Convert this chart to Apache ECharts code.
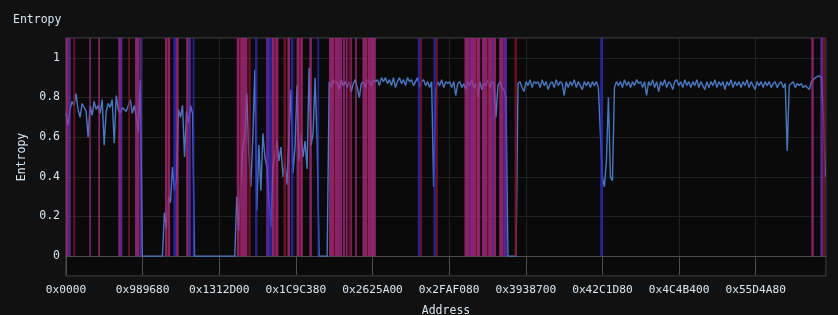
<!DOCTYPE html>
<html>
<head>
<meta charset="utf-8">
<script src="https://cdn.jsdelivr.net/npm/echarts@6/dist/echarts.min.js"></script>
<style>
  html, body { margin: 0; padding: 0; background: #111111; }
  #main { width: 838px; height: 315px; }
</style>
</head>
<body>
<div id="main"></div>
<script>
// block size of one entropy sample (bytes)
const BLOCK = 262144;
const FILE_END = 99170000;
const X_STEP = 10000000;

// entropy per block
const entropy = [
  0.72,0.66,0.74,0.78,0.76,0.82,0.74,0.70,0.77,0.75,
  0.73,0.60,0.76,0.71,0.78,0.74,0.76,0.72,0.79,0.56,
  0.73,0.77,0.75,0.79,0.57,0.81,0.74,0.72,0.75,0.74,
  0.73,0.76,0.79,0.72,0.76,0.70,0.62,0.89,
  0,0,0,0,0,0,0,0,0,0,0,
  0.22,0.14,0.30,0.27,0.45,0.33,0.40,0.74,0.70,0.76,0.50,0.73,0.67,0.76,0.72,
  0,0,0,0,0,0,0,0,0,0,0,0,0,0,0,0,0,0,0,0,0,
  0.30,0.13,0.38,0.55,0.60,0.82,0.52,0.35,0.60,0.94,
  0.23,0.56,0.33,0.62,0.50,0.45,0.28,0.15,0.44,0.52,
  0.58,0.48,0.55,0.40,0.47,0.36,0.62,0.84,0.42,0.55,
  0.86,0.48,0.62,0.50,0.58,0.44,0.95,0.56,0.62,0.90,
  0.58,
  0,0,0,0,0,
  0.88,0.85,0.89,0.87,0.88,0.84,0.89,0.86,0.88,0.85,
  0.88,0.83,0.87,0.89,0.85,0.80,0.87,0.88,0.85,0.89,
  0.88,0.86,0.89,0.88,0.89,0.86,0.90,0.88,0.90,0.87,
  0.89,0.86,0.90,0.85,0.88,0.90,0.87,0.89,0.86,0.90,
  0.88,0.89,0.86,0.88,0.90,0.85,0.88,0.89,0.86,0.88,
  0.85,0.88,0.35,0.84,0.88,0.86,0.89,0.85,0.88,0.87,
  0.88,0.85,0.88,0.81,0.87,0.88,0.85,0.87,0.84,0.88,
  0.86,0.89,0.85,0.87,0.80,0.88,0.84,0.87,0.86,0.89,
  0.85,0.88,0.87,0.70,0.86,0.88,0.85,0.84,0.80,
  0,0,0,0,0,
  0.87,0.88,0.85,0.83,0.88,0.86,0.89,0.85,0.88,0.87,
  0.88,0.85,0.89,0.86,0.88,0.84,0.87,0.88,0.85,0.89,
  0.86,0.88,0.87,0.81,0.88,0.85,0.88,0.86,0.89,0.85,
  0.88,0.86,0.84,0.88,0.86,0.88,0.85,0.88,0.86,0.88,
  0.85,
  0.62,0.40,0.35,0.48,0.80,0.40,0.38,0.85,0.88,
  0.86,0.88,0.85,0.89,0.86,0.88,0.85,0.88,0.86,0.89,
  0.87,0.88,0.85,0.88,0.81,0.88,0.86,0.89,0.85,0.88,
  0.83,0.88,0.86,0.89,0.85,0.88,0.87,0.84,0.88,0.89,
  0.86,0.88,0.85,0.89,0.86,0.88,0.85,0.88,0.86,0.89,
  0.85,0.88,0.86,0.84,0.88,0.85,0.88,0.86,0.89,0.85,
  0.88,0.86,0.88,0.84,0.88,0.86,0.89,0.85,0.88,0.86,
  0.88,0.85,0.88,0.86,0.89,0.85,0.88,0.86,0.84,0.88,
  0.86,0.88,0.85,0.88,0.86,0.88,0.85,0.87,0.88,0.85,
  0.87,0.88,0.85,0.87,
  0.53,0.86,0.87,0.88,0.85,0.87,0.86,0.87,0.85,0.86,
  0.85,0.84,0.88,0.89,0.90,0.905,0.91,0.90,0.72,0.40
];

// highlighted regions (start, end address) and their kind
// kind: 0 pink, 1 dark red, 2 blue, 3 purple
const bandStart = [
  0, 300000, 950000, 3040000, 4220000, 6830000, 7050000, 8130000, 9010000, 9570000,
  12920000, 13190000, 13320000, 14010000, 14360000, 15670000, 15950000, 16540000,
  22280000, 22650000, 22780000, 23800000, 24670000, 26110000, 26500000, 26850000, 27250000, 27380000,
  28370000, 28890000, 29370000, 30120000, 30500000, 30620000, 31760000, 32810000,
  34330000, 35000000, 35120000, 35770000, 36150000, 36500000, 36850000, 37100000, 37730000,
  38680000, 39300000, 39420000, 45910000, 46210000, 47950000, 48260000,
  52000000, 52700000, 52850000, 53500000, 53620000,
  54270000, 55000000, 55130000, 55600000, 55750000,
  56530000, 57100000, 58530000, 69710000, 97260000, 98430000, 98790000
];
const bandEnd = [
  300000, 610000, 1210000, 3220000, 4440000, 7050000, 7350000, 8360000, 9530000, 9880000,
  13190000, 13320000, 13580000, 14360000, 14710000, 15950000, 16280000, 16750000,
  22650000, 22780000, 23670000, 24110000, 24970000, 26500000, 26850000, 27250000, 27380000, 27710000,
  28720000, 29240000, 29670000, 30500000, 30620000, 30900000, 32080000, 33030000,
  35000000, 35120000, 35770000, 36050000, 36400000, 36750000, 37000000, 37300000, 37950000,
  39300000, 39420000, 40430000, 46210000, 46470000, 48260000, 48520000,
  52700000, 52850000, 53500000, 53620000, 54050000,
  55000000, 55130000, 55600000, 55750000, 56100000,
  57100000, 57530000, 58840000, 70060000, 97560000, 98790000, 99080000
];
const bandKind = [
  0, 3, 1, 0, 0, 0, 3, 1, 0, 3,
  0, 1, 0, 2, 0, 0, 3, 2,
  0, 1, 0, 1, 2, 3, 2, 0, 1, 0,
  1, 0, 2, 0, 1, 0, 0, 2,
  0, 1, 0, 0, 0, 0, 1, 0, 0,
  0, 1, 0, 2, 1, 2, 1,
  0, 3, 0, 1, 0,
  0, 1, 0, 3, 0,
  0, 3, 1, 2, 0, 3, 1
];

const Y_MIN = -0.1;
const Y_MAX = 1.1;

const BAND_COLORS = [
  'rgba(180,45,135,0.74)',
  'rgba(130,20,40,0.82)',
  'rgba(45,45,200,0.75)',
  'rgba(115,50,200,0.72)'
];
const TEXT = '#d8e6f0';
const FONT = 'DejaVu Sans Mono';

const lineData = entropy.map((v, i) => [i * BLOCK, v]);
const bandData = bandStart.map((s, i) => [s, bandEnd[i], bandKind[i]]);

const hex = (v) => '0x' + Math.round(v).toString(16).toUpperCase().padStart(4, '0');

const myChart = echarts.init(document.getElementById('main'));

const option = {
  backgroundColor: '#111111',
  animation: false,
  title: {
    text: 'Entropy',
    left: 8,
    top: 9,
    textStyle: { color: TEXT, fontFamily: FONT, fontSize: 11.5, fontWeight: 'normal' }
  },
  grid: {
    left: 66,
    right: 12,
    top: 38,
    bottom: 39,
    outerBoundsMode: 'none',
    show: true,
    backgroundColor: '#0a0a0a',
    borderColor: '#4a4a4a',
    borderWidth: 1
  },
  xAxis: {
    type: 'value',
    min: 0,
    max: FILE_END,
    interval: X_STEP,
    name: 'Address',
    nameLocation: 'middle',
    nameGap: 29,
    nameTextStyle: { color: TEXT, fontFamily: FONT, fontSize: 11.5 },
    axisLine: { onZero: true, lineStyle: { color: '#4e4e4e' } },
    axisTick: { length: 19, lineStyle: { color: '#4e4e4e' } },
    axisLabel: {
      color: TEXT, fontFamily: FONT, fontSize: 11.2, margin: 9,
      showMaxLabel: false,
      formatter: hex
    },
    splitLine: { show: true, lineStyle: { color: '#222222' } }
  },
  yAxis: {
    type: 'value',
    min: Y_MIN,
    max: Y_MAX,
    name: 'Entropy',
    nameLocation: 'middle',
    nameGap: 38,
    nameTextStyle: { color: TEXT, fontFamily: FONT, fontSize: 11.5 },
    axisLine: { show: false },
    axisTick: { show: false },
    axisLabel: {
      color: TEXT, fontFamily: FONT, fontSize: 11.5, margin: 6,
      showMinLabel: false, showMaxLabel: false
    },
    splitLine: { show: true, lineStyle: { color: '#222222' } }
  },
  series: [
    {
      name: 'entropy',
      type: 'line',
      data: lineData,
      showSymbol: false,
      sampling: null,
      lineStyle: { color: '#4a78c0', width: 1.4 },
      z: 2
    },
    {
      name: 'regions',
      type: 'custom',
      data: bandData,
      z: 3,
      renderItem: (params, api) => {
        const p0 = api.coord([api.value(0), 0]);
        const p1 = api.coord([api.value(1), Y_MAX]);
        return {
          type: 'rect',
          shape: { x: p0[0], y: p1[1], width: Math.max(p1[0] - p0[0], 1.5), height: p0[1] - p1[1] },
          style: { fill: BAND_COLORS[api.value(2)] }
        };
      }
    }
  ]
};

myChart.setOption(option);
</script>
</body>
</html>
